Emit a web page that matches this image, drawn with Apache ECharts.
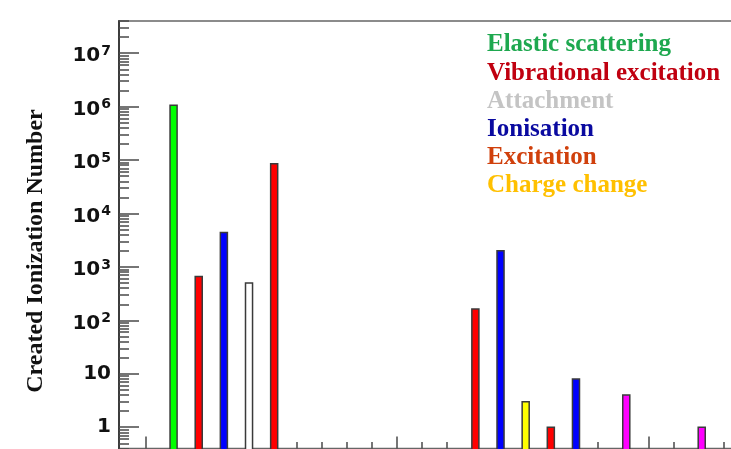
<!DOCTYPE html>
<html>
<head>
<meta charset="utf-8">
<script src="https://cdn.jsdelivr.net/npm/echarts@6/dist/echarts.min.js"></script>
<style>
  html, body { margin: 0; padding: 0; background: #fff; }
  #chart { width: 731px; height: 449px; }
</style>
</head>
<body>
<div id="chart"></div>
<script>
// Bin number of each filled bar and its count
const bins   = [1, 2, 3, 4, 5, 13, 14, 15, 16, 17, 19, 22];
const counts = [1060000, 660, 4400, 500, 85000, 164, 2000, 3, 1, 8, 4, 1];

// Fill colour of each bar, same order as bins
const barFills = ['#00ff00', '#ff0000', '#0000ff', '#ffffff', '#ff0000',
                  '#ff0000', '#0000ff', '#ffff00', '#ff0000', '#0000ff',
                  '#ff00ff', '#ff00ff'];

// Legend entries
const legendNames  = ['Elastic scattering', 'Vibrational excitation', 'Attachment',
                      'Ionisation', 'Excitation', 'Charge change'];
const legendColors = ['#1ea84f', '#c00010', '#c4c4c4', '#0a0aa0', '#d0400c', '#ffc000'];

// Axis ticks
const yMajorTicks = [1, 10, 100, 1e3, 1e4, 1e5, 1e6, 1e7];
const yMinorTicks = [];
for (let e = -1; e <= 7; e++) {
  for (let m = 2; m <= 9; m++) {
    const v = m * Math.pow(10, e);
    if (v >= 0.4 && v <= 4e7) yMinorTicks.push(Number(v.toPrecision(3)));
  }
}
const xMajorTicks = [0, 10, 20];
const xMinorTicks = [];
for (let i = 0; i <= 24; i++) if (i % 10 !== 0) xMinorTicks.push(i);

const Y_MIN = 0.4, Y_MAX = 4e7;
const X_MIN = -1.05, X_MAX = 24;
const X_UNIT_PX = 25.15;
const BAR_SHIFT = 0.12, BAR_WIDTH = 0.28;

const chart = echarts.init(document.getElementById('chart'), null, { renderer: 'canvas' });

// Powers of ten: 1 and 10 written plainly, the rest as 10 with a superscript exponent
function yLabel(v) {
  const e = Math.round(Math.log10(v));
  if (e === 0) return '{b|1}';
  if (e === 1) return '{b|10}';
  return '{bb|10}{s|' + e + '}';
}

const frameColor = '#4a4a4a';
const plotLeft = 119;
const plotRight = 731 - plotLeft - (X_MAX - X_MIN) * X_UNIT_PX;
const labelFont = { fontFamily: 'DejaVu Sans', fontWeight: 'bold', color: '#111' };

const option = {
  animation: false,
  backgroundColor: '#ffffff',
  grid: {
    left: plotLeft, top: 21, bottom: 0.5, right: plotRight,
    outerBoundsMode: 'none', containLabel: false,
    show: true, borderColor: '#666', borderWidth: 1.5, backgroundColor: 'transparent'
  },
  xAxis: [{
    type: 'value', min: X_MIN, max: X_MAX, position: 'bottom',
    axisLine: { show: false, onZero: false },
    axisTick: { show: true, inside: true, length: 12, customValues: xMajorTicks,
                lineStyle: { color: frameColor, width: 1.5 } },
    axisLabel: { show: false }, splitLine: { show: false }
  }, {
    type: 'value', min: X_MIN, max: X_MAX, position: 'bottom', gridIndex: 0,
    axisLine: { show: false, onZero: false },
    axisTick: { show: true, inside: true, length: 6.5, customValues: xMinorTicks,
                lineStyle: { color: frameColor, width: 1.5 } },
    axisLabel: { show: false }, splitLine: { show: false }
  }],
  yAxis: [{
    type: 'log', logBase: 10, min: Y_MIN, max: Y_MAX, position: 'left',
    axisLine: { show: true, onZero: false, lineStyle: { color: '#3c3c3c', width: 2 } },
    axisTick: { show: true, inside: true, length: 20, customValues: yMajorTicks,
                lineStyle: { color: frameColor, width: 1.5 } },
    axisLabel: {
      show: true, margin: 8, customValues: yMajorTicks,
      formatter: yLabel,
      rich: {
        b:  Object.assign({ fontSize: 20, lineHeight: 24 }, labelFont),
        bb: Object.assign({ fontSize: 20, lineHeight: 24, padding: [6, 0, 0, 0] }, labelFont),
        s:  Object.assign({ fontSize: 14, lineHeight: 16, verticalAlign: 'top', padding: [3, 0, 0, 1] }, labelFont)
      }
    },
    splitLine: { show: false }
  }, {
    type: 'log', logBase: 10, min: Y_MIN, max: Y_MAX, position: 'left',
    axisLine: { show: false, onZero: false },
    axisTick: { show: true, inside: true, length: 10, customValues: yMinorTicks,
                lineStyle: { color: frameColor, width: 1.5 } },
    axisLabel: { show: false }, splitLine: { show: false }
  }],
  series: [{
    type: 'custom',
    xAxisIndex: 0, yAxisIndex: 0,
    data: bins.map((b, i) => [b, counts[i], i]),
    encode: { x: 0, y: 1 },
    renderItem: function (params, api) {
      const x = api.value(0) + BAR_SHIFT;
      const v = api.value(1);
      const idx = api.value(2);
      const topLeft = api.coord([x - BAR_WIDTH / 2, v]);
      const topRight = api.coord([x + BAR_WIDTH / 2, v]);
      const base = api.coord([x, Y_MIN]);
      return {
        type: 'rect',
        shape: { x: topLeft[0], y: topLeft[1], width: topRight[0] - topLeft[0], height: base[1] - topLeft[1] + 4 },
        style: { fill: barFills[idx], stroke: '#3a3a3a', lineWidth: 1.5 }
      };
    }
  }],
  graphic: [
    {
      type: 'text', x: 36, y: 251, rotation: Math.PI / 2,
      style: {
        text: 'Created Ionization Number', fill: '#111',
        font: 'bold 24px "Liberation Serif", "Times New Roman", serif',
        textAlign: 'center', textVerticalAlign: 'middle'
      }
    }
  ].concat(legendNames.map((name, i) => ({
    type: 'text', x: 487, y: 45 + i * 28.15,
    style: {
      text: name, fill: legendColors[i],
      font: 'bold 25px "Liberation Serif", "Times New Roman", serif',
      textAlign: 'left', textVerticalAlign: 'middle',
      shadowColor: 'rgba(0,0,0,0.45)', shadowBlur: 4, shadowOffsetX: 3, shadowOffsetY: 3
    }
  })))
};

chart.setOption(option);
</script>
</body>
</html>
